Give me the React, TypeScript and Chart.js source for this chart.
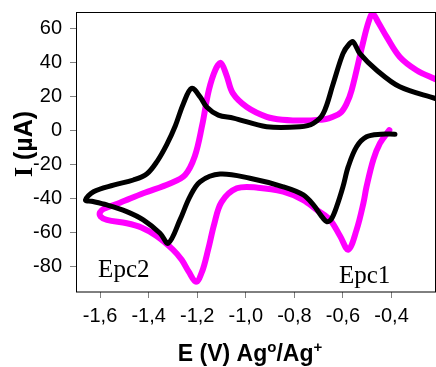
import React, { useEffect, useRef } from 'react';
import { Chart, registerables } from 'chart.js';

Chart.register(...registerables);

// Black voltammogram (potential in V, current in µA)
const blackE = [
  -0.386, -0.444, -0.503, -0.544, -0.578, -0.6, -0.626, -0.648, -0.667, -0.69,
  -0.72, -0.763, -0.846, -0.983, -1.106, -1.188, -1.23, -1.271, -1.319, -1.353,
  -1.422, -1.49, -1.572, -1.635, -1.66, -1.627, -1.545, -1.463, -1.408, -1.365,
  -1.325, -1.29, -1.257, -1.223, -1.188, -1.161, -1.113, -1.051, -0.914, -0.777,
  -0.722, -0.681, -0.64, -0.6, -0.575, -0.558, -0.53, -0.461, -0.366, -0.219,
];
const blackI = [
  -2, -2, -3.5, -9.4, -21, -33, -44.7, -52, -53.5, -50,
  -44, -37.8, -33, -28, -25.5, -30, -38.8, -52.5, -66.2, -60.4,
  -52.5, -47.6, -43.7, -41.5, -40.8, -35.9, -32, -29, -25.5, -18,
  -8, 3, 16, 25, 20, 14, 9.2, 7.5, 2.4, 2.4,
  4.4, 10.2, 27.9, 45.5, 51, 52.4, 45.5, 35.7, 25.9, 19,
];

// Magenta voltammogram
const magentaE = [
  -0.409, -0.448, -0.475, -0.503, -0.516, -0.544, -0.578, -0.612, -0.653, -0.708,
  -0.763, -0.846, -0.95, -1.037, -1.1, -1.13, -1.155, -1.18, -1.205, -1.235,
  -1.264, -1.3, -1.367, -1.43, -1.49, -1.572, -1.598, -1.6, -1.585, -1.518,
  -1.422, -1.312, -1.25, -1.21, -1.18, -1.152, -1.125, -1.103, -1.08, -1.053,
  -0.996, -0.914, -0.85, -0.75, -0.695, -0.667, -0.612, -0.585, -0.564, -0.518,
  -0.495, -0.478, -0.455, -0.42, -0.366, -0.297, -0.219,
];
const magentaI = [
  0.4, -7.4, -17, -33, -42.7, -58.4, -70, -62, -52.5, -46.6,
  -40.8, -35.9, -33.5, -33.9, -42, -55, -70, -83, -89, -83,
  -76, -70, -62, -57, -54.5, -52.5, -50.5, -48, -46, -42.4,
  -36.8, -31, -26, -15, 3, 24, 36, 40, 33, 22,
  14, 8.2, 6.5, 6, 6.5, 7, 10.4, 16, 24, 51.6,
  64, 69, 64, 55.3, 43.5, 35.7, 30.4,
];

const xTicks = [-1.6, -1.4, -1.2, -1.0, -0.8, -0.6, -0.4];
const yTicks = [-80, -60, -40, -20, 0, 20, 40, 60];
const xRange = [-1.699, -0.217];
const yRange = [-95, 70];

const peakLabels = ['Epc2', 'Epc1'];
const peakLabelE = [-1.608, -0.6165];
const peakLabelI = [-86, -89.6];

const xTitleParts = ['E (V) Ag', 'o', '/Ag', '+'];
const yTitleParts = ['I', ' (µA)'];

const toPoints = (xs: number[], ys: number[]) => xs.map((x, i) => ({ x, y: ys[i] }));

const decorPlugin = {
  id: 'decor',
  afterDraw(chart: any) {
    const { ctx, chartArea, scales } = chart;
    ctx.save();
    // frame
    ctx.strokeStyle = '#000';
    ctx.lineWidth = 1;
    ctx.strokeRect(chartArea.left + 0.5, chartArea.top + 0.5, chartArea.right - chartArea.left - 1, chartArea.bottom - chartArea.top - 0.5);

    // peak labels
    ctx.fillStyle = '#000';
    ctx.font = '25px "Liberation Serif", serif';
    ctx.textAlign = 'left';
    ctx.textBaseline = 'alphabetic';
    peakLabels.forEach((t, i) => {
      ctx.fillText(t, scales.x.getPixelForValue(peakLabelE[i]), scales.y.getPixelForValue(peakLabelI[i]));
    });

    // x title with superscripts
    const mainFont = 'bold 23px "Liberation Sans", Arial, sans-serif';
    const supFont = 'bold 15px "Liberation Sans", Arial, sans-serif';
    const widths = xTitleParts.map((p, i) => {
      ctx.font = i % 2 === 0 ? mainFont : supFont;
      return ctx.measureText(p).width;
    });
    const total = widths.reduce((a, b) => a + b, 0);
    let x = (chartArea.left + chartArea.right) / 2 - 6 - total / 2;
    const baseY = 361;
    xTitleParts.forEach((p, i) => {
      ctx.font = i % 2 === 0 ? mainFont : supFont;
      ctx.fillText(p, x, i % 2 === 0 ? baseY : baseY - 9);
      x += widths[i];
    });

    // y title: serif I + sans (µA)
    const yFonts = ['bold 26px "Liberation Serif", serif', 'bold 25px "Liberation Sans", Arial, sans-serif'];
    const yW = yTitleParts.map((p, i) => { ctx.font = yFonts[i]; return ctx.measureText(p).width; });
    const yTot = yW[0] + yW[1];
    ctx.translate(32, 144);
    ctx.rotate(-Math.PI / 2);
    ctx.textAlign = 'left';
    let yx = -yTot / 2;
    yTitleParts.forEach((p, i) => {
      ctx.font = yFonts[i];
      ctx.fillText(p, yx, 0);
      yx += yW[i];
    });
    ctx.restore();
  },
};

export default function App() {
  const ref = useRef<HTMLCanvasElement>(null);
  useEffect(() => {
    if (!ref.current) return;
    const tickFont = { family: '"Liberation Sans", Arial, sans-serif', size: 20 };
    const chart = new Chart(ref.current, {
      type: 'scatter',
      data: {
        datasets: [
          {
            label: 'black',
            data: toPoints(blackE, blackI),
            showLine: true,
            borderColor: '#000000',
            backgroundColor: '#000000',
            borderWidth: 5,
            pointRadius: 0,
            tension: 0.35,
            borderCapStyle: 'round',
            borderJoinStyle: 'round',
          },
          {
            label: 'magenta',
            data: toPoints(magentaE, magentaI),
            showLine: true,
            borderColor: '#FF00FF',
            backgroundColor: '#FF00FF',
            borderWidth: 6,
            pointRadius: 0,
            tension: 0.35,
            borderCapStyle: 'round',
            borderJoinStyle: 'round',
          },
        ],
      },
      options: {
        animation: false,
        responsive: false,
        devicePixelRatio: 1,
        layout: { padding: { top: 12, right: 0, left: 0, bottom: 0 } },
        plugins: { legend: { display: false }, tooltip: { enabled: false } },
        scales: {
          x: {
            type: 'linear',
            min: xRange[0],
            max: xRange[1],
            afterBuildTicks: (s: any) => { s.ticks = xTicks.map((v) => ({ value: v })); },
            afterFit: (s: any) => { s.height = 75; s.paddingLeft = 0; s.paddingRight = 0; },
            grid: { drawOnChartArea: false, drawTicks: true, tickLength: 6, color: '#808080' },
            border: { display: false },
            ticks: {
              font: tickFont,
              color: '#000',
              padding: 6,
              maxRotation: 0,
              autoSkip: false,
              callback: (v: any) => Number(v).toFixed(1).replace('.', ','),
            },
          },
          y: {
            type: 'linear',
            min: yRange[0],
            max: yRange[1],
            afterBuildTicks: (s: any) => { s.ticks = yTicks.map((v) => ({ value: v })); },
            afterFit: (s: any) => { s.width = 76; s.paddingTop = 0; s.paddingBottom = 0; },
            grid: { drawOnChartArea: false, drawTicks: true, tickLength: 6, color: '#808080' },
            border: { display: false },
            ticks: {
              font: tickFont,
              color: '#000',
              padding: 8,
              autoSkip: false,
              callback: (v: any) => String(v),
            },
          },
        },
      },
      plugins: [decorPlugin],
    } as any);
    return () => chart.destroy();
  }, []);
  return (
    <div style={{ position: 'absolute', left: 0, top: 0, width: 436, height: 367, background: '#fff' }}>
      <canvas ref={ref} width={436} height={367} />
    </div>
  );
}
